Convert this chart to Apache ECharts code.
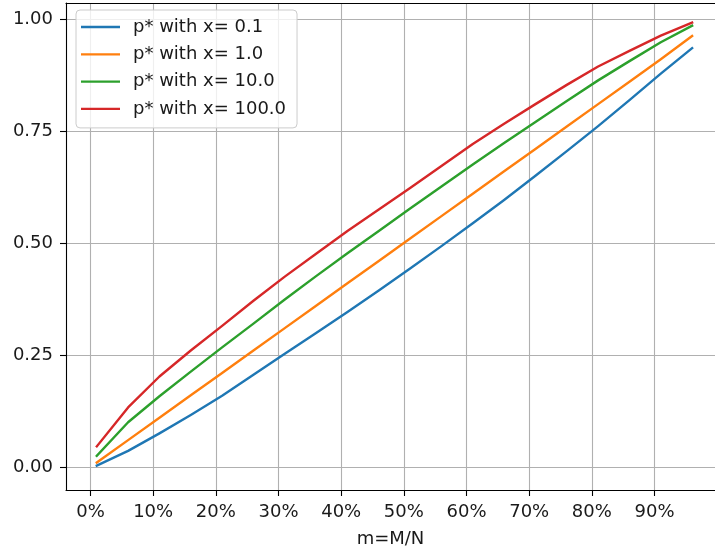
<!DOCTYPE html>
<html>
<head>
<meta charset="utf-8">
<script src="https://cdn.jsdelivr.net/npm/echarts@6/dist/echarts.min.js"></script>
<style>
  html, body { margin: 0; padding: 0; background: #fff; overflow: hidden; }
  #chart { width: 715px; height: 554px; }
</style>
</head>
<body>
<div id="chart"></div>
<script>
// m = M/N in percent
const mPercent = [1, 6, 11, 16, 21, 26, 31, 36, 41, 46, 51, 56, 61, 66, 71, 76, 81, 86, 91, 96];

// optimal p* for each x
const pX01 = [0.003, 0.036, 0.075, 0.116, 0.159, 0.206, 0.253, 0.299, 0.346, 0.394,
              0.443, 0.493, 0.544, 0.596, 0.650, 0.705, 0.761, 0.819, 0.878, 0.935];
const pX1 = [0.010, 0.060, 0.110, 0.160, 0.210, 0.260, 0.310, 0.360, 0.410, 0.460,
             0.510, 0.560, 0.610, 0.660, 0.710, 0.760, 0.810, 0.860, 0.910, 0.962];
const pX10 = [0.025, 0.100, 0.158, 0.213, 0.267, 0.320, 0.374, 0.426, 0.477, 0.527,
              0.577, 0.626, 0.675, 0.723, 0.770, 0.817, 0.863, 0.906, 0.948, 0.985];
const pX100 = [0.046, 0.133, 0.202, 0.260, 0.315, 0.371, 0.425, 0.476, 0.527, 0.575,
               0.623, 0.672, 0.721, 0.766, 0.810, 0.853, 0.894, 0.929, 0.963, 0.992];

const seriesNames = ['p* with x= 0.1', 'p* with x= 1.0', 'p* with x= 10.0', 'p* with x= 100.0'];
const seriesValues = [pX01, pX1, pX10, pX100];
const colors = ['#1f77b4', '#ff7f0e', '#2ca02c', '#d62728'];

const xTicks = [0, 10, 20, 30, 40, 50, 60, 70, 80, 90];
const yTicks = [0, 0.25, 0.5, 0.75, 1.0];
const xTitle = 'm=M/N';

const FONT = 'DejaVu Sans';
const FS = 18;
const TXT = '#1a1a1a';
const X_MIN = -3.91, X_MAX = 99.65;

const chart = echarts.init(document.getElementById('chart'), null, { renderer: 'canvas' });

const spine = { show: true, onZero: false, lineStyle: { color: '#000', width: 1.1 } };

chart.setOption({
  animation: false,
  backgroundColor: '#fff',
  textStyle: { fontFamily: FONT },
  grid: { left: 66, right: 0, top: 3, bottom: 64 },
  legend: {
    orient: 'vertical',
    left: 76, top: 10,
    padding: [7, 11, 9, 5],
    backgroundColor: 'rgba(255,255,255,0.8)',
    borderColor: '#cccccc', borderWidth: 1, borderRadius: 4,
    icon: 'rect',
    itemWidth: 39, itemHeight: 2.3, itemGap: 7.3,
    textStyle: { fontFamily: FONT, fontSize: FS, color: TXT, lineHeight: 20, padding: [0, 0, 0, 8] },
    data: seriesNames
  },
  xAxis: [{
    type: 'value',
    position: 'bottom',
    min: X_MIN, max: X_MAX,
    name: xTitle, nameLocation: 'middle', nameGap: 40,
    nameTextStyle: { fontFamily: FONT, fontSize: FS, color: TXT },
    axisLine: spine,
    axisTick: { show: true, length: 6, lineStyle: { color: '#000', width: 1.1 }, customValues: xTicks },
    axisLabel: {
      customValues: xTicks, margin: 13,
      fontFamily: FONT, fontSize: FS, color: TXT,
      formatter: v => v + '%'
    },
    splitLine: { show: true, lineStyle: { color: '#b0b0b0', width: 1.1 } }
  }, {
    // top frame line
    type: 'value',
    position: 'top',
    min: X_MIN, max: X_MAX,
    axisLine: spine,
    axisTick: { show: false },
    axisLabel: { show: false },
    splitLine: { show: false }
  }],
  yAxis: {
    type: 'value',
    min: -0.0513, max: 1.0357,
    axisLine: spine,
    axisTick: { show: true, length: 6, lineStyle: { color: '#000', width: 1.1 }, customValues: yTicks },
    axisLabel: {
      customValues: yTicks, margin: 13,
      fontFamily: FONT, fontSize: FS, color: TXT,
      formatter: v => v.toFixed(2)
    },
    splitLine: { show: true, lineStyle: { color: '#b0b0b0', width: 1.1 } }
  },
  series: seriesValues.map((vals, i) => ({
    name: seriesNames[i],
    type: 'line',
    symbol: 'none',
    color: colors[i],
    lineStyle: { color: colors[i], width: 2.4, cap: 'square', join: 'round' },
    data: mPercent.map((m, j) => [m, vals[j]])
  }))
});
</script>
</body>
</html>
